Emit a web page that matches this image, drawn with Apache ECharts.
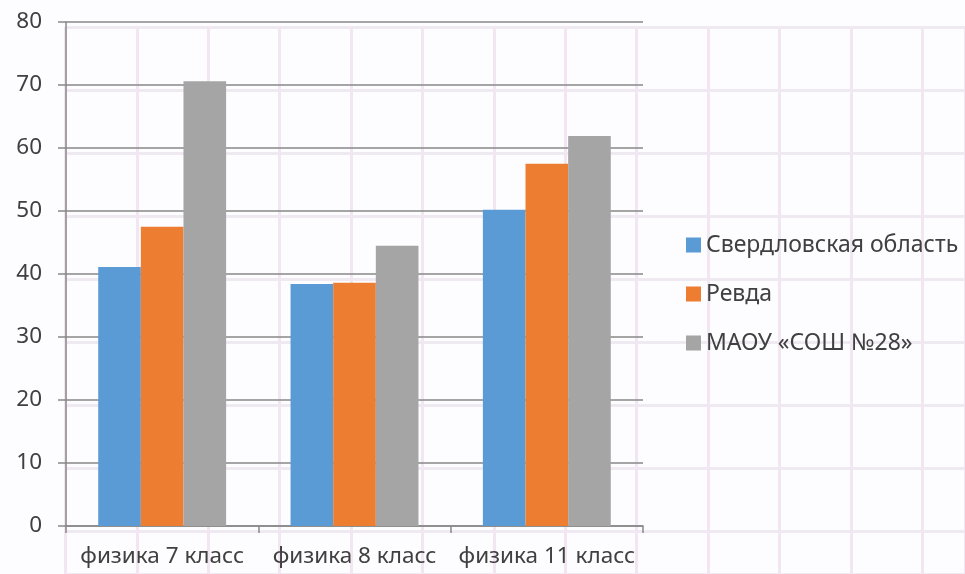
<!DOCTYPE html>
<html><head><meta charset="utf-8">
<script src="https://cdn.jsdelivr.net/npm/echarts@6/dist/echarts.min.js"></script>
<style>html,body{margin:0;padding:0;background:#fff}#c{width:965px;height:574px}</style>
</head><body><div id="c"></div>
<script>
const categories = ['физика 7 класс', 'физика 8 класс', 'физика 11 класс'];
const seriesNames = ['Свердловская область', 'Ревда', 'МАОУ «СОШ №28»'];
const sverdlovsk = [41.1, 38.4, 50.2];
const revda = [47.5, 38.6, 57.5];
const school28 = [70.6, 44.5, 61.9];
const colors = ['#5b9bd5', '#ed7d31', '#a5a5a5'];

const font = 'Noto Sans';
const chart = echarts.init(document.getElementById('c'));
chart.setOption({
  animation: false,
  backgroundColor: '#fdfcfe',
  grid: [
    {left: 66, right: 322, top: 22, bottom: 48},
    {left: 65.6, right: 0, top: 27, bottom: 0}
  ],
  legend: {
    orient: 'vertical', left: 686, top: 233, itemGap: 25, padding: 0,
    itemWidth: 15, itemHeight: 15, icon: 'rect',
    textStyle: {fontFamily: font, fontSize: 23, color: '#404040', lineHeight: 24},
    data: seriesNames
  },
  xAxis: [
    {type: 'category', data: categories, gridIndex: 0, z: 3,
     axisLine: {lineStyle: {color: '#888', width: 1.5}},
     axisTick: {show: true, length: 7, lineStyle: {color: '#888', width: 1.5}},
     axisLabel: {fontFamily: font, fontSize: 22.5, color: '#404040', margin: 19, interval: 0},
     splitLine: {show: false}},
    {type: 'value', gridIndex: 1, min: 0, max: 12.6, interval: 1, z: 0,
     axisLine: {show: false}, axisTick: {show: false}, axisLabel: {show: false},
     splitLine: {show: true, lineStyle: {color: '#f1e6f1', width: 3}}}
  ],
  yAxis: [
    {type: 'value', min: 0, max: 80, interval: 10, gridIndex: 0, z: 3,
     axisLine: {show: true, lineStyle: {color: '#888', width: 1.5}},
     axisTick: {show: true, length: 8, lineStyle: {color: '#888', width: 1.5}},
     axisLabel: {fontFamily: font, fontSize: 22.5, color: '#404040', margin: 24},
     splitLine: {show: true, lineStyle: {color: '#888', width: 1.5}}},
    {type: 'value', gridIndex: 1, min: 0, max: 8.68, interval: 1, inverse: true, z: 0,
     axisLine: {show: false}, axisTick: {show: false}, axisLabel: {show: false},
     splitLine: {show: true, lineStyle: {color: '#efeaf1', width: 3}}}
  ],
  series: [sverdlovsk, revda, school28].map((d, i) => ({
    name: seriesNames[i], type: 'bar', data: d, xAxisIndex: 0, yAxisIndex: 0,
    barGap: '0%', barCategoryGap: '33.5%', z: 4,
    itemStyle: {color: colors[i]}
  }))
});
</script></body></html>
